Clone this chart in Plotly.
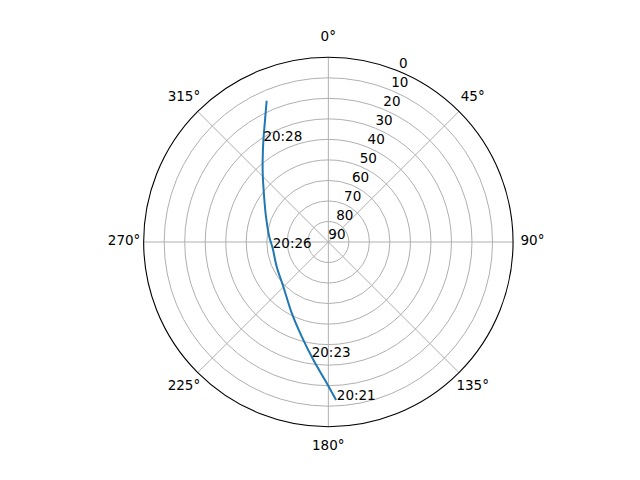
import plotly.graph_objects as go

# satellite pass track, azimuth (deg, clockwise from N) and elevation (deg)
track_az = [177.2, 181.4, 187.2, 195.7, 207.2, 225.2, 244.4, 263.5, 275.1, 292.1, 305.2, 316.3, 322.4, 327.5, 331.8, 336.4]
track_el = [12.9, 22.7, 32.0, 42.1, 51.0, 59.1, 62.1, 62.7, 61.1, 57.2, 51.7, 43.7, 37.6, 31.1, 24.4, 14.9]

# time labels along the track
label_az = [177.0, 188.0, 260.0, 326.4]
label_el = [11.2, 31.7, 62.5, 32.8]
label_txt = ["20:21", "20:23", "20:26", "20:28"]

radial_ticks = [0, 10, 20, 30, 40, 50, 60, 70, 80, 90]
rlabel_pos = 22.5

theta_ticks = [0, 45, 90, 135, 180, 225, 270, 315]
theta_text = ["0°", "45°", "90°", "135°", "180°", "225°", "270°", "315°"]
theta_pad = -9.5   # angle labels sit a bit outside elevation 0

fnt = dict(family="DejaVu Sans", size=13.5, color="black")

fig = go.Figure()
fig.add_trace(go.Scatterpolar(r=track_el, theta=track_az, mode="lines",
                              line=dict(color="#1f77b4", width=2, shape="spline"),
                              hoverinfo="skip"))
fig.add_trace(go.Scatterpolar(r=label_el, theta=label_az, mode="text",
                              text=label_txt, textposition="top right",
                              textfont=fnt, hoverinfo="skip"))
# radial labels drawn like matplotlib's (horizontal, at 22.5 deg)
fig.add_trace(go.Scatterpolar(r=radial_ticks, theta=[rlabel_pos] * len(radial_ticks), mode="text",
                              text=[str(v) for v in radial_ticks], textposition="top right",
                              textfont=fnt, hoverinfo="skip", cliponaxis=False))
# angle labels on a second, invisible and slightly larger polar with the same scale
fig.add_trace(go.Scatterpolar(r=[theta_pad] * len(theta_ticks), theta=theta_ticks, mode="text",
                              text=theta_text, textposition="middle center",
                              textfont=fnt, hoverinfo="skip", cliponaxis=False,
                              subplot="polar2"))

hidden = dict(showticklabels=False, ticks="", showline=False, showgrid=False)

fig.update_layout(
    width=640, height=480,
    paper_bgcolor="white",
    showlegend=False,
    margin=dict(l=0, r=0, t=0, b=0),
    font=fnt,
    polar=dict(
        domain=dict(x=[0.2119, 0.7892], y=[0.1277, 0.8973]),
        bgcolor="white",
        angularaxis=dict(rotation=90, direction="clockwise",
                         tickmode="array", tickvals=theta_ticks,
                         showticklabels=False, ticks="",
                         showline=True, linecolor="black", linewidth=1.1,
                         gridcolor="#b0b0b0", gridwidth=1.1),
        radialaxis=dict(range=[90, 0], tickmode="array", tickvals=radial_ticks,
                        showticklabels=False, showline=False, ticks="",
                        gridcolor="#b0b0b0", gridwidth=1.1),
    ),
    polar2=dict(
        domain=dict(x=[0.1814, 0.8195], y=[0.0871, 0.9379]),
        bgcolor="rgba(0,0,0,0)",
        angularaxis=dict(rotation=90, direction="clockwise", **hidden),
        radialaxis=dict(range=[90, theta_pad], **hidden),
    ),
)

fig.write_html("out.html")
